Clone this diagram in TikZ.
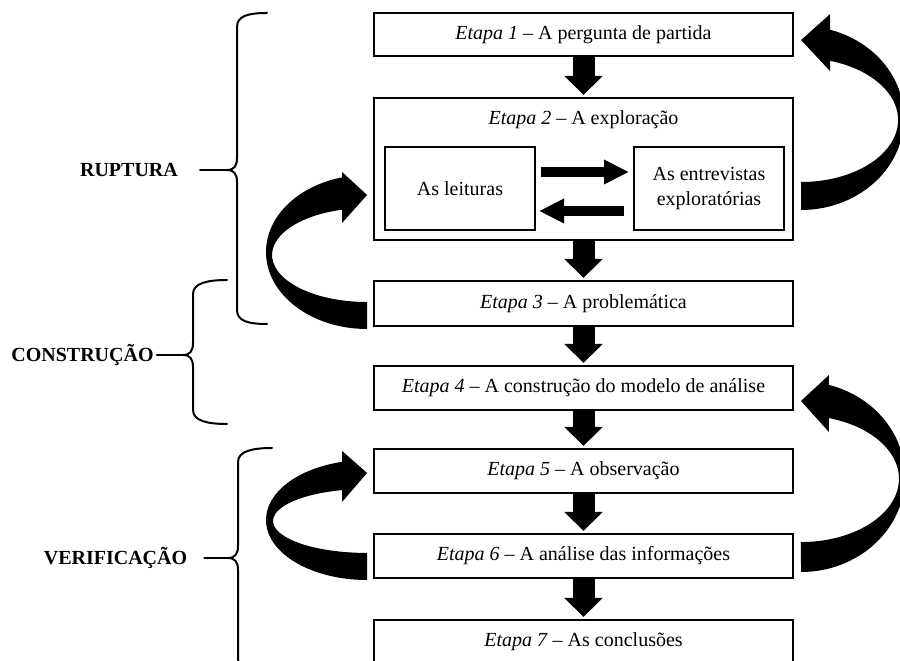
\documentclass[tikz,border=0pt]{standalone}
\usepackage{fontspec}
\setmainfont{Liberation Serif}
\usetikzlibrary{arrows.meta}
\begin{document}
\begin{tikzpicture}[x=1pt,y=1pt,
  txt/.style={font=\fontsize{20}{25}\selectfont},
  stage/.style={txt, draw, line width=2pt, minimum width=419pt, minimum height=44pt, inner sep=0pt, align=center},
  subbox/.style={txt, draw, line width=2pt, minimum width=150pt, minimum height=83pt, inner sep=0pt, align=center},
  phase/.style={font=\fontsize{20}{24}\selectfont\bfseries, inner sep=0pt},
  brace/.style={line width=2pt, line cap=round, line join=round},
  downflow/.style={line width=22pt, -{Triangle[width=37pt,length=19pt]}, shorten >=2pt},
  sideflow/.style={line width=10pt, -{Triangle[width=23pt,length=25pt]}},
  loop/.style={fill=black}
]
\useasboundingbox (0,0) rectangle (900,661);
\fill[white] (0,0) rectangle (900,661);

% stages of the procedure
\node[stage, minimum height=43pt] (b1) at (583.5,626.5) {\textit{Etapa 1} – A pergunta de partida};
\node[stage, minimum height=142pt] (b2) at (583.5,492) {};
\node[txt] (t2) at (583.5,541) {\textit{Etapa 2} – A exploração};
\node[subbox] (lei) at (460,472.5) {As leituras};
\node[subbox] (ent) at (709,472.5) {As entrevistas\\exploratórias};
\node[stage, minimum height=45pt] (b3) at (583.5,357.5) {\textit{Etapa 3} – A problemática};
\node[stage] (b4) at (583.5,273) {\textit{Etapa 4} – A construção do modelo de análise};
\node[stage] (b5) at (583.5,190) {\textit{Etapa 5} – A observação};
\node[stage] (b6) at (583.5,105) {\textit{Etapa 6} – A análise das informações};
\node[stage] (b7) at (583.5,19) {\textit{Etapa 7} – As conclusões};

% main sequence
\draw[downflow] (b1.south) -- (b2.north);
\draw[downflow] (b2.south) -- (b3.north);
\draw[downflow] (b3.south) -- (b4.north);
\draw[downflow] (b4.south) -- (b5.north);
\draw[downflow] (b5.south) -- (b6.north);
\draw[downflow] (b6.south) -- (b7.north);

% exchange inside the exploration stage
\draw[sideflow] ([shift={(5pt,16.5pt)}]lei.east) -- ([shift={(-4pt,16.5pt)}]ent.west);
\draw[sideflow] ([shift={(-9pt,-22.5pt)}]ent.west) -- ([shift={(3pt,-22.5pt)}]lei.east);

% feedback loops on the right
\fill[loop] ([shift={(7pt,-41pt)}]b2.east)
  arc[start angle=-90, end angle=73.6, x radius=103pt, y radius=92pt]
  -- ++(0,15.7) -- ++(-29,-26) -- ++(29,-31) -- ++(0,10.2)
  arc[start angle=72.6, end angle=-90, x radius=97pt, y radius=62pt] -- cycle;
\fill[loop] ([shift={(7pt,-16pt)}]b6.east)
  arc[start angle=-90, end angle=74.4, x radius=104pt, y radius=95.3pt]
  -- ++(0,9.9) -- ++(-28,-26) -- ++(28,-31) -- ++(0,13.9)
  arc[start angle=73.4, end angle=-90, x radius=98pt, y radius=63.3pt] -- cycle;

% feedback loops on the left
\fill[loop] ([shift={(-6pt,-25.5pt)}]b3.west)
  arc[start angle=-90, end angle=-255.7, x radius=101pt, y radius=77pt]
  -- ++(0,5.4) -- ++(25,-23) -- ++(-25,-28) -- ++(0,13.3)
  arc[start angle=105.26, end angle=270, x radius=95pt, y radius=47pt] -- cycle;
\fill[loop] ([shift={(-6pt,-24pt)}]b6.west)
  arc[start angle=-90, end angle=-255.7, x radius=101pt, y radius=60pt]
  -- ++(0,10.9) -- ++(25,-22) -- ++(-25,-29) -- ++(0,11.85)
  arc[start angle=105.42, end angle=270, x radius=94pt, y radius=32pt] -- cycle;

% phases
\node[phase] (rup) at (129,491) {RUPTURA};
\node[phase] (con) at (82.5,306) {CONSTRUÇÃO};
\node[phase] (ver) at (115.5,103) {VERIFICAÇÃO};

\coordinate (rtip) at (227,491);
\draw[brace] (267,648) .. controls (248,648) and (237,645) .. (237,634) -- (237,503)
  .. controls (237,495) and (234,491) .. (rtip) .. controls (234,491) and (237,487) .. (237,479)
  -- (237,351) .. controls (237,340) and (248,337) .. (267,337);
\draw[brace] (rtip) -- ([xshift=22pt]rup.east);

\coordinate (ctip) at (183,306);
\draw[brace] (227,381) .. controls (208,381) and (193,378) .. (193,367) -- (193,318)
  .. controls (193,310) and (190,306) .. (ctip) .. controls (190,306) and (193,302) .. (193,294)
  -- (193,251) .. controls (193,240) and (208,237) .. (227,237);
\draw[brace] (ctip) -- ([xshift=3pt]con.east);

\coordinate (vtip) at (228,103);
\draw[brace] (272,213) .. controls (253,213) and (238,210) .. (238,199) -- (238,115)
  .. controls (238,107) and (235,103) .. (vtip) .. controls (235,103) and (238,99) .. (238,91)
  -- (238,2) .. controls (238,-8) and (253,-10) .. (272,-10);
\draw[brace] (vtip) -- ([xshift=17pt]ver.east);
\end{tikzpicture}
\end{document}
